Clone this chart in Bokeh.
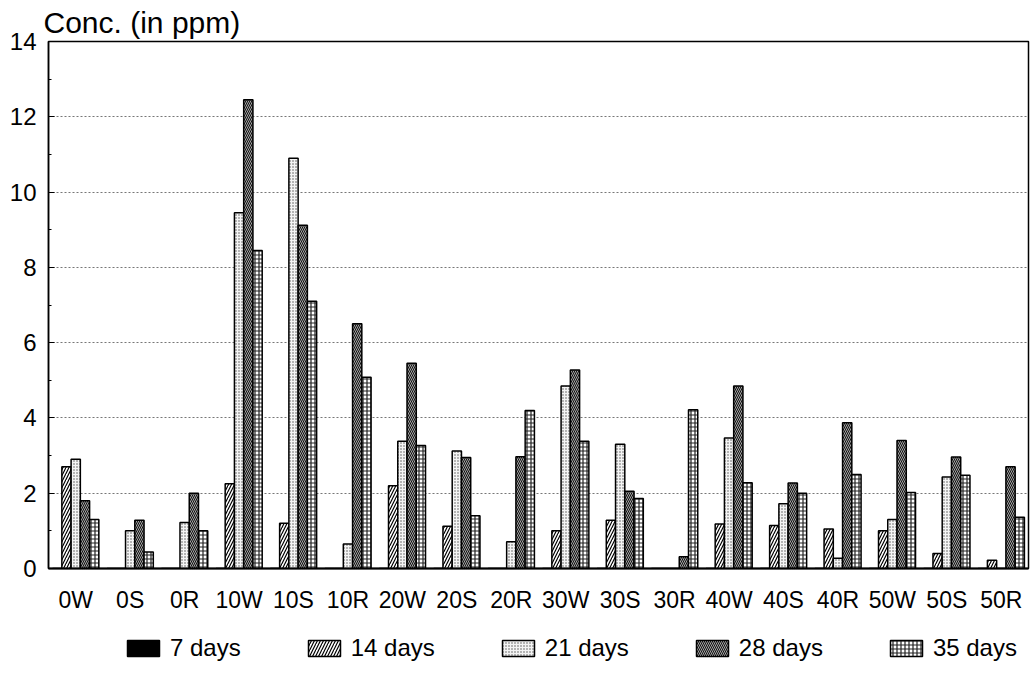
from bokeh.plotting import figure
from bokeh.models import Range1d, Legend, LegendItem, FixedTicker
from bokeh.layouts import column
from bokeh.transform import dodge
from bokeh.embed import file_html
from bokeh.resources import INLINE

cats = ["0W", "0S", "0R", "10W", "10S", "10R", "20W", "20S", "20R",
        "30W", "30S", "30R", "40W", "40S", "40R", "50W", "50S", "50R"]
d7 = [0] * 18
d14 = [2.7, 0, 0, 2.25, 1.2, 0, 2.2, 1.12, 0, 1.0, 1.28, 0, 1.18, 1.14, 1.05, 1.0, 0.4, 0.22]
d21 = [2.9, 1.0, 1.22, 9.45, 10.9, 0.65, 3.38, 3.12, 0.71, 4.85, 3.3, 0, 3.47, 1.72, 0.27, 1.3, 2.43, 0]
d28 = [1.8, 1.28, 2.0, 12.45, 9.12, 6.5, 5.45, 2.95, 2.97, 5.27, 2.05, 0.31, 4.85, 2.27, 3.87, 3.4, 2.96, 2.7]
d35 = [1.3, 0.44, 1.0, 8.45, 7.1, 5.08, 3.27, 1.4, 4.2, 3.38, 1.86, 4.22, 2.28, 2.0, 2.5, 2.02, 2.48, 1.36]
series_names = ["7 days", "14 days", "21 days", "28 days", "35 days"]
series = [d7, d14, d21, d28, d35]

FONT = "Liberation Sans"

p = figure(x_range=cats, y_range=Range1d(0, 14), frame_width=980, frame_height=527,
           min_border_left=48, min_border_top=41, min_border_right=6, min_border_bottom=44,
           output_backend="svg", toolbar_location=None, title="Conc. (in ppm)")
p.title.text_font = FONT
p.title.text_font_size = "30px"
p.title.text_font_style = "normal"
p.title.text_color = "black"
p.title.align = "left"
p.title.offset = -5
p.title.standoff = 5

styles = [
    dict(fill_color="black", hatch_pattern=" "),
    dict(fill_color="white", hatch_pattern="/", hatch_color="black", hatch_scale=6, hatch_weight=1.2),
    dict(fill_color="#f4f4f4", hatch_pattern=".", hatch_color="#555555", hatch_scale=3, hatch_weight=1.0),
    dict(fill_color="#111111", hatch_pattern="\\", hatch_color="#cccccc", hatch_scale=4, hatch_weight=0.8),
    dict(fill_color="white", hatch_pattern="+", hatch_color="#222222", hatch_scale=4, hatch_weight=1.2),
]

# legend strip: same bars drawn on a range where they stay out of view
pl = figure(x_range=cats, y_range=Range1d(100, 101), width=1034, height=62,
            min_border=0, x_axis_location=None, y_axis_location=None,
            output_backend="svg", toolbar_location=None)
pl.outline_line_color = None
pl.grid.grid_line_color = None

w = 0.17
offsets = [-2 * w, -w, 0, w, 2 * w]
items = []
for name, vals, off, st in zip(series_names, series, offsets, styles):
    src = dict(x=cats, top=vals)
    p.vbar(x=dodge("x", off, range=p.x_range), top="top", width=w, source=src,
           line_color="black", line_width=1.5, **st)
    r2 = pl.vbar(x=dodge("x", off, range=pl.x_range), top="top", width=w, source=src,
                 line_color="black", line_width=1.5, **st)
    items.append(LegendItem(label=name, renderers=[r2]))

legend = Legend(items=items, orientation="horizontal", location=(75, 15),
                glyph_width=40, glyph_height=20, spacing=63, label_standoff=7,
                label_text_font=FONT, label_text_font_size="24px", label_text_color="black",
                border_line_color=None, background_fill_alpha=0, margin=0, padding=4)
pl.add_layout(legend, "center")

p.yaxis.ticker = FixedTicker(ticks=[0, 2, 4, 6, 8, 10, 12, 14], minor_ticks=list(range(0, 15)))
p.yaxis.major_label_text_font = FONT
p.yaxis.major_label_text_font_size = "24px"
p.yaxis.major_label_text_color = "black"
p.yaxis.major_tick_in = 6
p.yaxis.major_tick_out = 0
p.yaxis.minor_tick_in = 3
p.yaxis.minor_tick_out = 0
p.yaxis.axis_line_width = 1.5
p.yaxis.major_label_standoff = 12

p.xaxis.major_label_text_font = FONT
p.xaxis.major_label_text_font_size = "23px"
p.xaxis.major_label_text_color = "black"
p.xaxis.major_tick_line_color = None
p.xaxis.axis_line_width = 2
p.xaxis.major_label_standoff = 12

p.xgrid.grid_line_color = None
p.ygrid.grid_line_color = "#777777"
p.ygrid.grid_line_dash = "2 2"
p.ygrid.grid_line_width = 1

p.outline_line_color = "black"
p.outline_line_width = 1.5
p.outline_line_alpha = 1

layout = column(p, pl, spacing=0)
open("out.html", "w").write(file_html(layout, INLINE))
